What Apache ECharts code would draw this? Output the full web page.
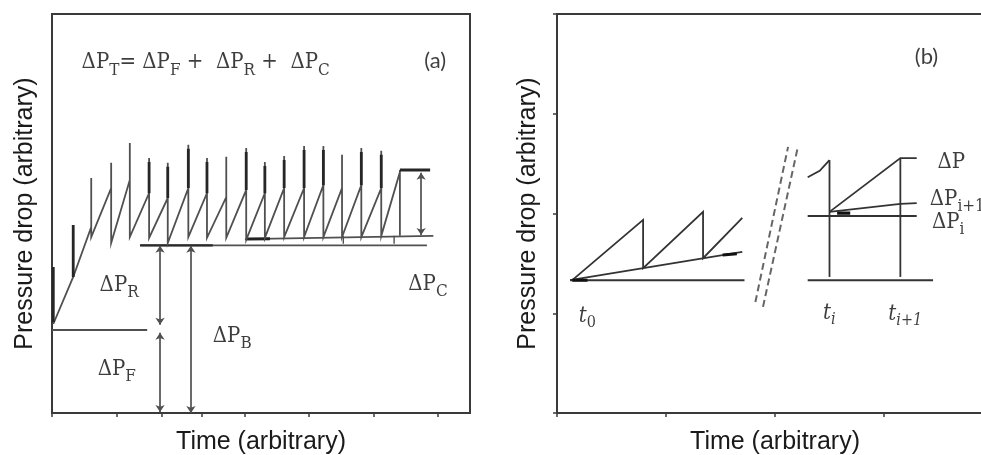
<!DOCTYPE html>
<html>
<head>
<meta charset="utf-8">
<script src="https://cdn.jsdelivr.net/npm/echarts@6/dist/echarts.min.js"></script>
<style>
  html, body { margin: 0; padding: 0; background: #fff; }
  #chart { width: 981px; height: 455px; }
</style>
</head>
<body>
<div id="chart"></div>
<script>
// ---------- (a) pulse-jet cleaning cycles ----------
// time of each cleaning pulse and the pressure drop just before it, at its peak, and right after it
const pulseTime   = [6.1, 9.2, 12.1, 15.1, 18.0, 21.2, 24.1, 27.1, 30.2, 33.1, 36.1, 39.2, 42.2, 45.1, 48.1, 51.2, 54.1];
const pulsePeak   = [58.9, 62.7, 67.7, 63.9, 62.7, 67.2, 63.9, 64.2, 66.4, 62.9, 64.4, 66.9, 66.9, 64.7, 66.4, 65.7, 60.9];
const pulseBefore = [46.6, 56.4, 58.4, 55.1, 53.9, 56.4, 55.1, 54.1, 55.9, 55.1, 56.4, 56.4, 57.1, 56.4, 57.1, 56.4, 60.4];
const pulseAfter  = [44.1, 42.6, 44.1, 43.9, 42.6, 44.1, 43.9, 43.9, 43.4, 43.9, 44.1, 44.1, 44.1, 44.1, 44.1, 44.4, 44.4];

// conditioning ramp of the clean fabric
const rampTime = [0.2, 3.3];
const rampDP   = [22.3, 34.1];
const earlyPulseTime = [0.2, 3.3];
const earlyPulseLow  = [22.8, 34.1];
const earlyPulseHigh = [36.6, 47.1];

// reference levels
const fabricDP      = 20.8;           // ΔP_F
const fabricSpan    = [0, 14.8];
const residualDP    = 42.0;           // ΔP_F + ΔP_R
const residualSpan  = [13.7, 58.3];
const residualDarkEnd = 25.0;
const cakeBaseTime  = [30.0, 59.3];   // residual level after stable operation
const cakeBaseDP    = [43.6, 44.4];
const cakeTopDP     = 60.9;           // ΔP_C upper bound
const cakeTopSpan   = [54.1, 58.8];
const markTime      = [45.3, 53.2];   // small markers between the two residual lines

// arrows: [time, from, to]
const arrowR = [16.8, 41.9, 22.1];
const arrowF = [16.8, 20.1, 0.25];
const arrowB = [21.6, 41.9, 0.0];
const arrowC = [57.4, 60.2, 44.6];

// time-axis tick positions of panel (a)
const tickTimeA = [0, 10, 17.1, 23.3, 30, 40, 50, 60];

// ---------- (b) successive cycles ----------
const cycleTimeB = [1.4, 7.9, 7.9, 13.4, 13.4, 17.0];
const cycleDPB   = [33.3, 48.4, 36.3, 50.4, 38.8, 48.9];
const trendTimeB = [1.2, 17.0];
const trendDPB   = [33.3, 40.4];
const baseSpanB1 = [1.2, 17.2];
const baseSpanB2 = [23.0, 34.5];
const baseDPB    = 33.3;
const breakA = [[18.2, 27.8], [21.2, 66.7]];
const breakB = [[18.9, 26.6], [22.1, 66.7]];
const tI  = 25.0, tI1 = 31.5;
const leadInTime = [23.0, 24.1, 25.0];
const leadInDP   = [59.1, 60.7, 63.4];
const dPiLevel   = 49.4;
const dPiSpan    = [23.0, 33.0];
const rampStartB = [25.0, 50.4];
const dPPeak     = 63.9;
const dPi1Time   = [25.0, 31.5, 33.0];
const dPi1DP     = [50.4, 52.4, 52.6];
const levelEndB  = 33.0;

// pulses drawn with a heavier head stroke
const heavyPulses = [3, 4, 5, 6, 8, 9, 10, 11, 12, 14, 15];

// ---------- build geometry ----------
const sawA = rampTime.map((t, i) => [t, rampDP[i]]);
pulseTime.forEach((t, i) => {
  sawA.push([t, pulseBefore[i]], [t, pulsePeak[i]], [t, pulseAfter[i]]);
});
const sawB = cycleTimeB.map((t, i) => [t, cycleDPB[i]]);

const INK = '#0d0d0d';
const LINE_A = '#505050';
const LINE_B = '#333333';
const SERIF = '"DejaVu Serif Condensed", "DejaVu Serif", serif';

function path(g, coords, color, width, extra) {
  return Object.assign({
    type: 'lines', coordinateSystem: 'cartesian2d',
    xAxisIndex: g, yAxisIndex: g, polyline: true, silent: true,
    symbol: ['none', 'none'],
    lineStyle: { color: color, width: width, opacity: 1 },
    data: [{ coords: coords }]
  }, extra || {});
}
function arrow(g, a, color) {
  return {
    type: 'lines', coordinateSystem: 'cartesian2d',
    xAxisIndex: g, yAxisIndex: g, silent: true,
    symbol: ['arrow', 'arrow'], symbolSize: 7,
    lineStyle: { color: color, width: 1.7, opacity: 1 },
    data: [{ coords: [[a[0], a[1]], [a[0], a[2]]] }]
  };
}

const rich = {
  m:  { fontFamily: SERIF, fontSize: 22, lineHeight: 26, color: INK },
  s:  { fontFamily: SERIF, fontSize: 17, lineHeight: 26, padding: [15, 0, 0, 0], color: INK },
  i:  { fontFamily: SERIF, fontStyle: 'italic', fontSize: 22, lineHeight: 26, color: INK },
  si: { fontFamily: SERIF, fontStyle: 'italic', fontSize: 16, lineHeight: 26, padding: [14, 0, 0, 0], color: INK },
  su: { fontFamily: SERIF, fontSize: 16, lineHeight: 26, padding: [14, 0, 0, 0], color: INK },
  p:  { fontFamily: 'Lato', fontSize: 22, color: INK }
};

function labels(g, items) {
  return {
    type: 'scatter', xAxisIndex: g, yAxisIndex: g, symbolSize: 0, silent: true, clip: false,
    data: items.map(it => ({
      value: it.at,
      label: {
        show: true, position: it.center ? 'inside' : 'right', distance: 0,
        formatter: it.text, rich: rich
      }
    }))
  };
}

const annotationsA = [
  { text: '{m|ΔP}{s|T}{m|= ΔP}{s|F}{m| +  ΔP}{s|R}{m| +  ΔP}{s|C}', at: [4.6, 87.8] },
  { text: '{p|(a)}', at: [59.6, 88.2], center: true },
  { text: '{m|ΔP}{s|R}', at: [7.4, 32.1] },
  { text: '{m|ΔP}{s|F}', at: [7.1, 11.0] },
  { text: '{m|ΔP}{s|B}', at: [25.0, 19.3] },
  { text: '{m|ΔP}{s|C}', at: [55.4, 32.3] }
];
const annotationsB = [
  { text: '{p|(b)}', at: [33.9, 89.2], center: true },
  { text: '{m|ΔP}', at: [34.9, 62.9] },
  { text: '{m|ΔP}{s|i+1}', at: [34.2, 53.6] },
  { text: '{m|ΔP}{s|i}', at: [34.4, 47.9] },
  { text: '{i|t}{su|0}', at: [2.0, 24.3] },
  { text: '{i|t}{si|i}', at: [24.4, 25.1] },
  { text: '{i|t}{si|i+1}', at: [30.4, 24.8] }
];

const titleStyle = { fontFamily: 'Liberation Sans', fontSize: 25, color: '#1a1a1a' };
const tickStyle = { color: '#3c3c3c', width: 1.5 };
const gridBase = { top: 14, height: 399, show: true, borderColor: '#3a3a3a', borderWidth: 2,
                   backgroundColor: 'transparent', containLabel: false, outerBoundsMode: 'none' };

const option = {
  backgroundColor: '#fff',
  animation: false,
  grid: [
    Object.assign({ left: 52, width: 418 }, gridBase),
    Object.assign({ left: 557, width: 436 }, gridBase)
  ],
  xAxis: [
    { gridIndex: 0, type: 'value', min: 0, max: 65, interval: 10,
      axisLine: { show: false },
      axisTick: { show: true, inside: false, length: 4, customValues: tickTimeA, lineStyle: tickStyle },
      axisLabel: { show: false }, splitLine: { show: false },
      name: 'Time (arbitrary)', nameLocation: 'middle', nameGap: 17, nameTextStyle: titleStyle },
    { gridIndex: 1, type: 'value', min: 0, max: 40, interval: 10,
      axisLine: { show: false },
      axisTick: { show: true, inside: false, length: 4, lineStyle: tickStyle },
      axisLabel: { show: false }, splitLine: { show: false },
      name: 'Time (arbitrary)', nameLocation: 'middle', nameGap: 17, nameTextStyle: titleStyle }
  ],
  yAxis: [
    { gridIndex: 0, type: 'value', min: 0, max: 100, interval: 25,
      axisLine: { show: false }, axisTick: { show: false }, axisLabel: { show: false }, splitLine: { show: false },
      name: 'Pressure drop (arbitrary)', nameLocation: 'middle', nameGap: 14, nameTextStyle: titleStyle },
    { gridIndex: 1, type: 'value', min: 0, max: 100, interval: 25,
      axisLine: { show: false },
      axisTick: { show: true, inside: false, length: 4, lineStyle: tickStyle },
      axisLabel: { show: false }, splitLine: { show: false },
      name: 'Pressure drop (arbitrary)', nameLocation: 'middle', nameGap: 16, nameTextStyle: titleStyle }
  ],
  series: [
    // (a)
    path(0, [[fabricSpan[0], fabricDP], [fabricSpan[1], fabricDP]], LINE_A, 1.8),
    path(0, [[residualSpan[0], residualDP], [residualSpan[1], residualDP]], LINE_A, 1.8),
    path(0, [[residualSpan[0], residualDP], [residualDarkEnd, residualDP]], '#2a2a2a', 2.4),
    path(0, cakeBaseTime.map((t, i) => [t, cakeBaseDP[i]]), LINE_A, 1.8),
    path(0, [[cakeBaseTime[0] + 0.3, cakeBaseDP[0]], [cakeBaseTime[0] + 3.9, cakeBaseDP[0] + 0.1]], '#222', 3),
    ...markTime.map(t => path(0, [[t, cakeBaseDP[1]], [t, residualDP + 0.4]], LINE_A, 1.4)),
    path(0, sawA, LINE_A, 1.8),
    ...heavyPulses.map(i => path(0, [[pulseTime[i], pulseBefore[i]], [pulseTime[i], pulsePeak[i] - 1]], '#262626', 2.8)),
    ...earlyPulseTime.map((t, i) => path(0, [[t, earlyPulseLow[i]], [t, earlyPulseHigh[i]]], '#262626', 2.8)),
    path(0, [[cakeTopSpan[0], cakeTopDP], [cakeTopSpan[1], cakeTopDP]], '#262626', 3),
    arrow(0, arrowR, LINE_A),
    arrow(0, arrowF, LINE_A),
    arrow(0, arrowB, LINE_A),
    arrow(0, arrowC, LINE_A),
    labels(0, annotationsA),
    // (b)
    path(1, [[baseSpanB1[0], baseDPB], [baseSpanB1[1], baseDPB]], LINE_B, 2),
    path(1, trendTimeB.map((t, i) => [t, trendDPB[i]]), LINE_B, 1.8),
    path(1, sawB, LINE_B, 1.8),
    path(1, [[1.4, baseDPB], [2.8, baseDPB]], '#111', 3),
    path(1, [[15.2, 39.6], [16.5, 39.9]], '#111', 3),
    path(1, breakA, '#555', 2, { lineStyle: { color: '#666', width: 2, opacity: 1, type: [7, 4] } }),
    path(1, breakB, '#555', 2, { lineStyle: { color: '#666', width: 2, opacity: 1, type: [7, 4] } }),
    path(1, [[baseSpanB2[0], baseDPB], [baseSpanB2[1], baseDPB]], LINE_B, 2),
    path(1, leadInTime.map((t, i) => [t, leadInDP[i]]), LINE_B, 1.8),
    path(1, [[tI, 34.1], [tI, leadInDP[2]]], LINE_B, 1.8),
    path(1, [[dPiSpan[0], dPiLevel], [dPiSpan[1], dPiLevel]], LINE_B, 2),
    path(1, [rampStartB, [tI1, dPPeak], [levelEndB, dPPeak]], LINE_B, 1.8),
    path(1, [[tI1, 34.1], [tI1, dPPeak]], LINE_B, 1.8),
    path(1, dPi1Time.map((t, i) => [t, dPi1DP[i]]), LINE_B, 1.8),
    path(1, [[25.7, 50.1], [26.9, 50.1]], '#111', 3.2),
    labels(1, annotationsB)
  ]
};

const chart = echarts.init(document.getElementById('chart'), null, { renderer: 'canvas' });
chart.setOption(option);
</script>
</body>
</html>
